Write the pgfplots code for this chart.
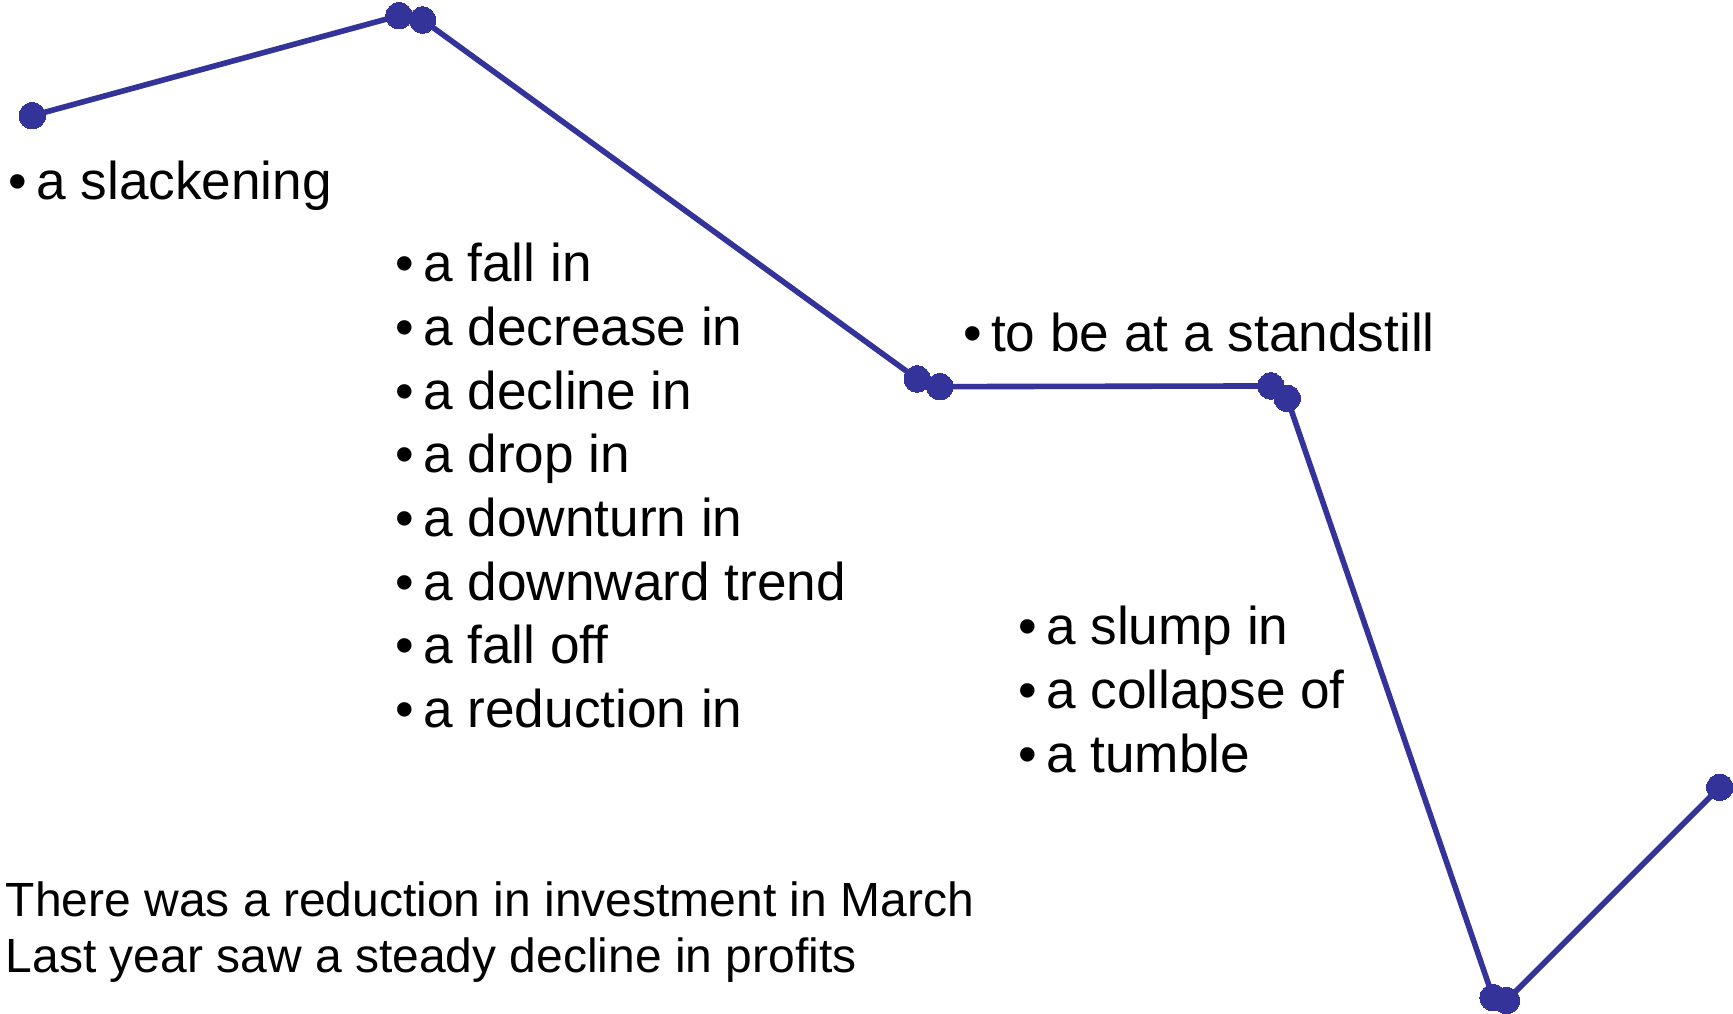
\documentclass[border=0pt]{standalone}
\usepackage{fontspec}
\setmainfont{Liberation Sans}
\usepackage{pgfplots}
\pgfplotsset{compat=1.18}
\definecolor{lineblue}{RGB}{51,51,153}
\newcommand{\bitem}[1]{\makebox[7pt][l]{•}#1}
\begin{document}
\begin{tikzpicture}
\begin{axis}[
  scale only axis,
  width=433.25pt, height=253.5pt,
  xmin=0, xmax=1733, ymin=0, ymax=1014,
  y dir=reverse,
  hide axis,
  clip=false,
]
\path (rel axis cs:0,0) rectangle (rel axis cs:1,1);
\addplot[color=lineblue, line width=1.4pt, mark=*, mark size=3.3pt,
  mark options={fill=lineblue, draw=lineblue, line width=0pt}]
  coordinates {
  (32.3,115.7) (399,15.7) (422.7,20) (917.3,379) (940,386.7)
  (1271,386) (1287.3,398.3) (1493.3,997.7) (1506.7,1000.7) (1720,787.3)
  };
\tikzset{lbl/.style={anchor=base west, inner sep=0pt, font=\fontsize{13.3}{16}\selectfont}}
\node[lbl] at (axis cs:7.5,200) {\bitem{a slackening}};
\node[lbl] at (axis cs:394.5,282) {\bitem{a fall in}};
\node[lbl] at (axis cs:394.5,345.7) {\bitem{a decrease in}};
\node[lbl] at (axis cs:394.5,409.4) {\bitem{a decline in}};
\node[lbl] at (axis cs:394.5,473) {\bitem{a drop in}};
\node[lbl] at (axis cs:394.5,536.8) {\bitem{a downturn in}};
\node[lbl] at (axis cs:394.5,600.5) {\bitem{a downward trend}};
\node[lbl] at (axis cs:394.5,664) {\bitem{a fall off}};
\node[lbl] at (axis cs:394.5,728) {\bitem{a reduction in}};
\node[lbl] at (axis cs:962.5,352) {\bitem{to be at a standstill}};
\node[lbl] at (axis cs:1017.5,645) {\bitem{a slump in}};
\node[lbl] at (axis cs:1017.5,709) {\bitem{a collapse of}};
\node[lbl] at (axis cs:1017.5,773) {\bitem{a tumble}};
\tikzset{btm/.style={anchor=base west, inner sep=0pt, font=\fontsize{12}{14}\selectfont}}
\node[btm] at (axis cs:5,917) {There was a reduction in investment in March};
\node[btm] at (axis cs:5,973) {Last year saw a steady decline in profits};
\end{axis}
\end{tikzpicture}
\end{document}
